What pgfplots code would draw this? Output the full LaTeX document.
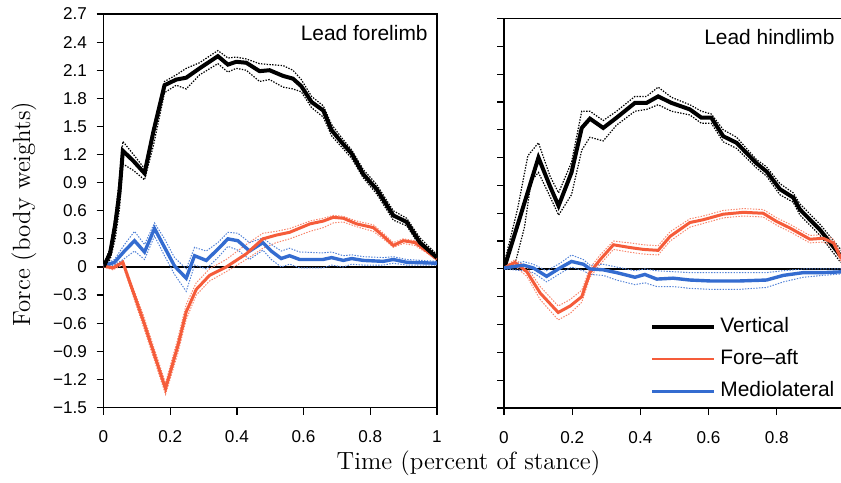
\documentclass[border=0pt]{standalone}
\usepackage{fontspec}
\usepackage{pgfplots}
\usepackage{pgfplotstable}
\pgfplotsset{compat=1.18}
\newfontfamily\lsans{Liberation Sans}
\definecolor{forecol}{RGB}{245,92,58}
\definecolor{medicol}{RGB}{52,108,208}

% ---------- Lead forelimb ----------
\pgfplotstableread{
x y
0 0
0.02 0.15
0.035 0.45
0.048 0.8
0.058 1.24
0.09 1.13
0.123 1.0
0.15 1.45
0.183 1.94
0.218 2.0
0.248 2.02
0.288 2.12
0.343 2.25
0.373 2.16
0.398 2.19
0.428 2.18
0.468 2.09
0.498 2.10
0.538 2.04
0.568 2.01
0.593 1.93
0.624 1.76
0.659 1.67
0.684 1.46
0.714 1.33
0.744 1.21
0.779 0.99
0.819 0.83
0.869 0.55
0.909 0.48
0.949 0.26
1.0 0.10
}\LV
\pgfplotstableread{
x y
0 0.02
0.02 0.2
0.035 0.55
0.048 0.95
0.058 1.34
0.09 1.2
0.123 1.05
0.15 1.5
0.183 1.98
0.218 2.05
0.248 2.12
0.288 2.18
0.343 2.31
0.373 2.23
0.398 2.24
0.428 2.22
0.468 2.17
0.498 2.16
0.538 2.15
0.568 2.10
0.593 2.00
0.624 1.82
0.659 1.72
0.684 1.52
0.714 1.38
0.744 1.25
0.779 1.04
0.819 0.88
0.869 0.60
0.909 0.52
0.949 0.31
1.0 0.13
}\LVu
\pgfplotstableread{
x y
0 0
0.02 0.08
0.035 0.3
0.048 0.62
0.058 1.10
0.09 1.03
0.123 0.93
0.15 1.3
0.183 1.86
0.218 1.94
0.248 1.90
0.288 2.05
0.343 2.17
0.373 2.08
0.398 2.12
0.428 2.10
0.468 1.98
0.498 2.00
0.538 1.92
0.568 1.90
0.593 1.87
0.624 1.70
0.659 1.60
0.684 1.40
0.714 1.28
0.744 1.16
0.779 0.95
0.819 0.78
0.869 0.50
0.909 0.44
0.949 0.22
1.0 0.07
}\LVl
\pgfplotstableread{
x y
0 0.01
0.028 -0.01
0.058 0.05
0.118 -0.56
0.186 -1.30
0.223 -0.84
0.248 -0.48
0.278 -0.24
0.318 -0.09
0.368 0.0
0.428 0.14
0.478 0.30
0.518 0.34
0.558 0.37
0.619 0.46
0.659 0.49
0.689 0.53
0.719 0.52
0.759 0.46
0.809 0.42
0.839 0.33
0.869 0.23
0.899 0.28
0.934 0.26
0.969 0.17
1.0 0.085
}\LO
\pgfplotstableread{
x y
0 0.02
0.028 0.01
0.058 0.07
0.118 -0.50
0.186 -1.24
0.223 -0.76
0.248 -0.40
0.278 -0.17
0.318 -0.02
0.368 0.08
0.428 0.24
0.478 0.36
0.518 0.38
0.558 0.41
0.619 0.49
0.659 0.52
0.689 0.55
0.719 0.54
0.759 0.49
0.809 0.45
0.839 0.36
0.869 0.26
0.899 0.30
0.934 0.28
0.969 0.19
1.0 0.10
}\LOu
\pgfplotstableread{
x y
0 0
0.028 -0.03
0.058 0.02
0.118 -0.62
0.186 -1.36
0.223 -0.92
0.248 -0.56
0.278 -0.30
0.318 -0.15
0.368 -0.05
0.428 0.08
0.478 0.20
0.518 0.26
0.558 0.30
0.619 0.38
0.659 0.42
0.689 0.47
0.719 0.48
0.759 0.43
0.809 0.38
0.839 0.30
0.869 0.21
0.899 0.25
0.934 0.23
0.969 0.15
1.0 0.07
}\LOl
\pgfplotstableread{
x y
0 0.01
0.033 0.05
0.063 0.17
0.093 0.28
0.123 0.16
0.153 0.41
0.183 0.21
0.213 0.01
0.248 -0.12
0.273 0.12
0.308 0.07
0.343 0.19
0.373 0.30
0.403 0.28
0.438 0.17
0.478 0.26
0.503 0.17
0.533 0.09
0.558 0.12
0.588 0.08
0.658 0.08
0.684 0.10
0.719 0.07
0.744 0.09
0.779 0.07
0.839 0.06
0.869 0.08
0.909 0.05
1.0 0.04
}\LB
\pgfplotstableread{
x y
0 0.02
0.033 0.08
0.063 0.24
0.093 0.38
0.123 0.24
0.153 0.47
0.183 0.30
0.213 0.10
0.248 -0.02
0.273 0.21
0.308 0.17
0.343 0.26
0.373 0.37
0.403 0.36
0.438 0.26
0.478 0.31
0.503 0.24
0.533 0.17
0.558 0.20
0.588 0.16
0.658 0.15
0.684 0.16
0.719 0.12
0.744 0.13
0.779 0.11
0.839 0.10
0.869 0.11
0.909 0.08
1.0 0.06
}\LBu
\pgfplotstableread{
x y
0 0
0.033 0.02
0.063 0.09
0.093 0.17
0.123 0.08
0.153 0.33
0.183 0.12
0.213 -0.08
0.248 -0.26
0.273 0.02
0.308 -0.02
0.343 0.10
0.373 0.22
0.403 0.18
0.438 0.08
0.478 0.18
0.503 0.08
0.533 0.0
0.558 0.03
0.588 -0.01
0.658 -0.01
0.684 0.02
0.719 0.0
0.744 0.03
0.779 0.02
0.839 0.02
0.869 0.04
0.909 0.02
1.0 0.02
}\LBl

% ---------- Lead hindlimb ----------
\pgfplotstableread{
x y
0 0
0.101 1.20
0.135 0.89
0.16 0.68
0.198 1.04
0.228 1.52
0.252 1.62
0.291 1.52
0.330 1.63
0.384 1.79
0.418 1.79
0.452 1.86
0.491 1.79
0.545 1.72
0.579 1.63
0.608 1.63
0.643 1.43
0.682 1.36
0.740 1.14
0.770 1.05
0.809 0.86
0.848 0.77
0.868 0.64
0.927 0.42
0.985 0.15
1.0 0.10
}\RV
\pgfplotstableread{
x y
0 0.05
0.04 0.65
0.07 1.22
0.101 1.36
0.135 1.0
0.16 0.82
0.198 1.15
0.228 1.70
0.252 1.70
0.291 1.60
0.330 1.70
0.384 1.86
0.418 1.86
0.452 1.96
0.491 1.85
0.545 1.77
0.579 1.70
0.608 1.67
0.643 1.50
0.682 1.42
0.740 1.18
0.770 1.10
0.809 0.92
0.848 0.82
0.868 0.70
0.927 0.48
0.985 0.22
1.0 0.15
}\RVu
\pgfplotstableread{
x y
0 0
0.03 0.02
0.06 0.45
0.08 0.95
0.101 1.04
0.135 0.78
0.16 0.58
0.198 0.80
0.228 1.28
0.252 1.42
0.291 1.38
0.330 1.55
0.384 1.70
0.418 1.72
0.452 1.77
0.491 1.70
0.545 1.66
0.579 1.57
0.608 1.57
0.643 1.37
0.682 1.30
0.740 1.09
0.770 1.00
0.809 0.80
0.848 0.72
0.868 0.58
0.927 0.36
0.985 0.08
1.0 0.05
}\RVl
\pgfplotstableread{
x y
0 0.01
0.032 0.07
0.067 -0.03
0.106 -0.26
0.159 -0.47
0.194 -0.40
0.228 -0.30
0.252 -0.04
0.282 0.10
0.321 0.26
0.370 0.23
0.409 0.21
0.452 0.20
0.487 0.35
0.545 0.50
0.584 0.53
0.643 0.59
0.702 0.61
0.760 0.60
0.800 0.51
0.839 0.44
0.897 0.32
0.936 0.33
0.966 0.28
0.988 0.12
1.0 0.08
}\RO
\pgfplotstableread{
x y
0 0.02
0.032 0.10
0.067 0.02
0.106 -0.19
0.159 -0.40
0.194 -0.33
0.228 -0.23
0.252 0.01
0.282 0.15
0.321 0.30
0.370 0.28
0.409 0.26
0.452 0.25
0.487 0.40
0.545 0.54
0.584 0.57
0.643 0.63
0.702 0.65
0.760 0.64
0.800 0.55
0.839 0.48
0.897 0.36
0.936 0.37
0.966 0.32
0.988 0.16
1.0 0.11
}\ROu
\pgfplotstableread{
x y
0 0
0.032 0.03
0.067 -0.08
0.106 -0.33
0.159 -0.55
0.194 -0.48
0.228 -0.36
0.252 -0.09
0.282 0.05
0.321 0.21
0.370 0.18
0.409 0.16
0.452 0.15
0.487 0.30
0.545 0.45
0.584 0.49
0.643 0.55
0.702 0.57
0.760 0.56
0.800 0.47
0.839 0.40
0.897 0.28
0.936 0.29
0.966 0.24
0.988 0.08
1.0 0.05
}\ROl
\pgfplotstableread{
x y
0 0.01
0.057 0.04
0.086 0.01
0.125 -0.08
0.164 0.01
0.198 0.08
0.233 0.05
0.252 0.0
0.291 -0.01
0.330 -0.04
0.384 -0.09
0.413 -0.06
0.448 -0.11
0.496 -0.10
0.545 -0.12
0.604 -0.13
0.692 -0.13
0.770 -0.12
0.819 -0.07
0.878 -0.04
0.936 -0.04
1.0 -0.03
}\RB
\pgfplotstableread{
x y
0 0.02
0.057 0.08
0.086 0.05
0.125 -0.02
0.164 0.06
0.198 0.15
0.233 0.10
0.252 0.04
0.291 0.05
0.330 0.02
0.384 -0.02
0.413 0.0
0.448 -0.02
0.496 -0.03
0.545 -0.04
0.604 -0.04
0.692 -0.04
0.770 -0.04
0.819 -0.02
0.878 0.0
0.936 0.0
1.0 0.0
}\RBu
\pgfplotstableread{
x y
0 0
0.057 -0.02
0.086 -0.04
0.125 -0.14
0.164 -0.05
0.198 0.02
0.233 -0.02
0.252 -0.06
0.291 -0.07
0.330 -0.12
0.384 -0.17
0.413 -0.15
0.448 -0.19
0.496 -0.19
0.545 -0.21
0.604 -0.22
0.692 -0.22
0.770 -0.20
0.819 -0.14
0.878 -0.09
0.936 -0.07
1.0 -0.05
}\RBl

\pgfplotsset{
  panel/.style={
    scale only axis,
    xmin=0, xmax=1, ymin=-1.5, ymax=2.7,
    tick align=outside, xtick pos=bottom, ytick pos=left,
    major tick length=3.5bp,
    axis line style={line width=0.6bp},
    every tick/.style={line width=0.6bp, black},
    ytick={-1.5,-1.2,-0.9,-0.6,-0.3,0,0.3,0.6,0.9,1.2,1.5,1.8,2.1,2.4,2.7},
    ticklabel style={font=\lsans\fontsize{8.6}{10}\selectfont},
    xticklabel style={yshift=-4.5bp},
    yticklabel style={xshift=-1.3bp},
  },
  vmean/.style={black, line width=2bp},
  vband/.style={black, line width=0.6bp, dash pattern=on 0.7bp off 0.7bp},
  omean/.style={forecol, line width=1.5bp},
  oband/.style={forecol!75, line width=0.5bp, dash pattern=on 0.7bp off 0.7bp},
  bmean/.style={medicol, line width=1.7bp},
  bband/.style={medicol!85, line width=0.5bp, dash pattern=on 0.7bp off 0.7bp},
}

\begin{document}
\begin{tikzpicture}
\useasboundingbox (0bp,0bp) rectangle (420.5bp,-241.5bp);

\begin{axis}[panel,
  at={(51.75bp,-203.75bp)}, anchor=south west,
  width=166.75bp, height=196.75bp,
  xtick={0,0.2,0.4,0.6,0.8,1},
  xticklabels={0,0.2,0.4,0.6,0.8,1},
  yticklabels={−1.5,−1.2,−0.9,−0.6,−0.3,0,0.3,0.6,0.9,1.2,1.5,1.8,2.1,2.4,2.7},
]
\addplot[black, line width=0.8bp, forget plot] coordinates {(0,0) (1,0)};
\addplot[vband] table {\LVu};
\addplot[vband] table {\LVl};
\addplot[oband] table {\LOu};
\addplot[oband] table {\LOl};
\addplot[bband] table {\LBu};
\addplot[bband] table {\LBl};
\addplot[bmean] table {\LB};
\addplot[omean] table {\LO};
\addplot[vmean] table {\LV};
\node[anchor=north east, inner sep=0pt, font=\lsans\fontsize{10.5}{12}\selectfont]
  at (rel axis cs:1,1) [xshift=-4.5bp, yshift=-5.5bp] {Lead forelimb};
\end{axis}

\begin{axis}[panel,
  at={(252bp,-204bp)}, anchor=south west,
  width=170.5bp, height=194.75bp,
  xtick={0,0.2,0.4,0.6,0.8},
  xticklabels={0,0.2,0.4,0.6,0.8},
  yticklabels={},
  legend style={draw=none, fill=none, at={(rel axis cs:0.428,0.235)}, anchor=north west,
    inner sep=0pt, font=\lsans\fontsize{10.5}{12}\selectfont,
    row sep=5.5bp, column sep=2bp,
    nodes={inner sep=0pt, text height=8bp, text depth=2.5bp}},
  legend cell align=left,
  legend image code/.code={\draw[#1] (0bp,0bp) -- (31bp,0bp);},
]
\addplot[black, line width=0.8bp, forget plot] coordinates {(0,0) (1,0)};
\addplot[vband, forget plot] table {\RVu};
\addplot[vband, forget plot] table {\RVl};
\addplot[oband, forget plot] table {\ROu};
\addplot[oband, forget plot] table {\ROl};
\addplot[bband, forget plot] table {\RBu};
\addplot[bband, forget plot] table {\RBl};
\addplot[vmean, forget plot] table {\RV};
\addplot[omean, forget plot] table {\RO};
\addplot[bmean, forget plot] table {\RB};
\addlegendimage{black, line width=2bp}
\addlegendentry{Vertical}
\addlegendimage{forecol, line width=1bp}
\addlegendentry{Fore–aft}
\addlegendimage{medicol, line width=1.3bp}
\addlegendentry{Mediolateral}
\node[anchor=north east, inner sep=0pt, font=\lsans\fontsize{10.5}{12}\selectfont]
  at (rel axis cs:1,1) [xshift=-5bp, yshift=-5bp] {Lead hindlimb};
\end{axis}

\node[rotate=90, font=\fontsize{12.5}{15}\selectfont] at (12bp,-107bp) {Force (body weights)};
\node[font=\fontsize{12.5}{15}\selectfont] at (234.25bp,-231.75bp) {Time (percent of stance)};
\end{tikzpicture}
\end{document}
